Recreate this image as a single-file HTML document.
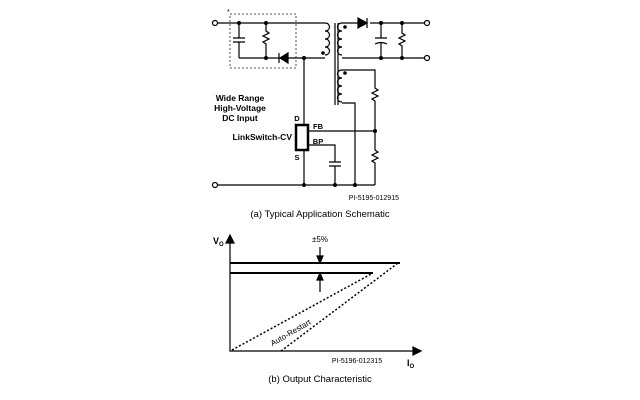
<!DOCTYPE html><html><head><style>body{margin:0;background:#fff}svg{display:block}</style></head><body>
<svg width="640" height="400" viewBox="0 0 640 400" font-family="Liberation Sans, sans-serif">
<g stroke="#000" fill="none" stroke-width="1.2">
<rect x="230" y="14" width="66" height="54" stroke-dasharray="2,2" stroke="#555" stroke-width="1"/>
<circle cx="215" cy="23" r="2.5" fill="#fff"/>
<path d="M217.5 23H325"/>
<path d="M239 23V38M239 42V58M233 38H245M233 42H245"/>
<path d="M266 23V31l3 2-6 3 6 3-6 3 3 2V58"/>
<path d="M239 58H325"/>
<path d="M280 58l8-5v10z" fill="#000"/><path d="M279 53v10"/>
<path d="M304 58V125"/>
<path d="M325 23c6 0 6 8 0 8c6 0 6 8 0 8c6 0 6 8 0 8c6 0 6 8 0 8" />
<path d="M335 23V105M338 23V105"/>
<path d="M342 23c-6 0-6 8 0 8c-6 0-6 8 0 8c-6 0-6 8 0 8c-6 0-6 8 0 8"/>
<path d="M342 23H358M370 23H427M358 18v10l9-5z" fill="#000"/><path d="M367 18v10"/>
<path d="M342 58H425"/>
<circle cx="427" cy="23" r="2.5" fill="#fff"/><circle cx="427" cy="58" r="2.5" fill="#fff"/>
<path d="M381 23V38M381 43V58M375 38H387M375 44q6-3 12 0"/>
<path d="M402 23V33l3 2-6 3 6 3-6 3 3 2V58"/>
<path d="M342 70c-6 0-6 8 0 8c-6 0-6 8 0 8c-6 0-6 8 0 8c-6 0-6 8 0 8"/>
<path d="M342 70H375V88l3 2-6 3 6 3-6 3 3 2V150l3 2-6 3 6 3-6 3 3 2V185"/>
<path d="M342 103H355V185"/>
<rect x="296" y="125" width="12" height="25" stroke-width="2.5"/>
<path d="M309 131H375M309 145H335V162M329 162H341M329 166H341M335 166V185M304 150V185"/>
<path d="M217.5 185H375"/>
<circle cx="215" cy="185" r="2.5" fill="#fff"/>
</g>
<g fill="#000">
<circle cx="239" cy="23" r="2"/><circle cx="266" cy="23" r="2"/><circle cx="266" cy="58" r="2"/><circle cx="304" cy="58" r="2"/>
<circle cx="323" cy="53" r="1.8"/><circle cx="345" cy="27" r="1.8"/><circle cx="345" cy="73" r="1.8"/>
<circle cx="381" cy="23" r="2"/><circle cx="402" cy="23" r="2"/><circle cx="381" cy="58" r="2"/><circle cx="402" cy="58" r="2"/>
<circle cx="375" cy="131" r="2"/><circle cx="304" cy="185" r="2"/><circle cx="335" cy="185" r="2"/><circle cx="355" cy="185" r="2"/>
</g>
<text x="227" y="14" font-size="7">*</text>
<g font-size="8.5" font-weight="bold" text-anchor="middle">
<text x="240" y="101">Wide Range</text><text x="240" y="111">High-Voltage</text><text x="240" y="121">DC Input</text>
<text x="292" y="140" text-anchor="end">LinkSwitch-CV</text>
<text x="297" y="121" font-size="7.5">D</text><text x="297" y="160" font-size="7.5">S</text>
<text x="318" y="129" font-size="7.5">FB</text><text x="318" y="144" font-size="7.5">BP</text>
</g>
<text x="399" y="200" font-size="7" text-anchor="end">PI-5195-012915</text>
<text x="320" y="217" font-size="9.5" text-anchor="middle">(a) Typical Application Schematic</text>
<g stroke="#000" fill="none" stroke-width="1.2">
<path d="M230 240V351H416"/>
<path d="M226 243l4-8 4 8z M413 347l8 4-8 4z" fill="#000"/>
<path d="M230 263H400M230 273H373" stroke-width="2"/>
<path d="M232 350L373 273M281 351L398 263" stroke-dasharray="2,2" stroke-width="1.5"/>
<path d="M320 247V258M320 278V292"/>
<path d="M317 256l3 7 3-7z M317 280l3-7 3 7z" fill="#000"/>
</g>
<text x="213" y="244" font-size="9" font-weight="bold">V<tspan font-size="6" dy="2">O</tspan></text>
<text x="320" y="242" font-size="8" text-anchor="middle">±5%</text>
<text x="292" y="335" font-size="8" transform="rotate(-30 292 335)" text-anchor="middle">Auto-Restart</text>
<text x="357" y="363" font-size="7" text-anchor="middle">PI-5196-012315</text>
<text x="407" y="366" font-size="9" font-weight="bold">I<tspan font-size="6" dy="2">O</tspan></text>
<text x="320" y="382" font-size="9.5" text-anchor="middle">(b) Output Characteristic</text>
</svg></body></html>
